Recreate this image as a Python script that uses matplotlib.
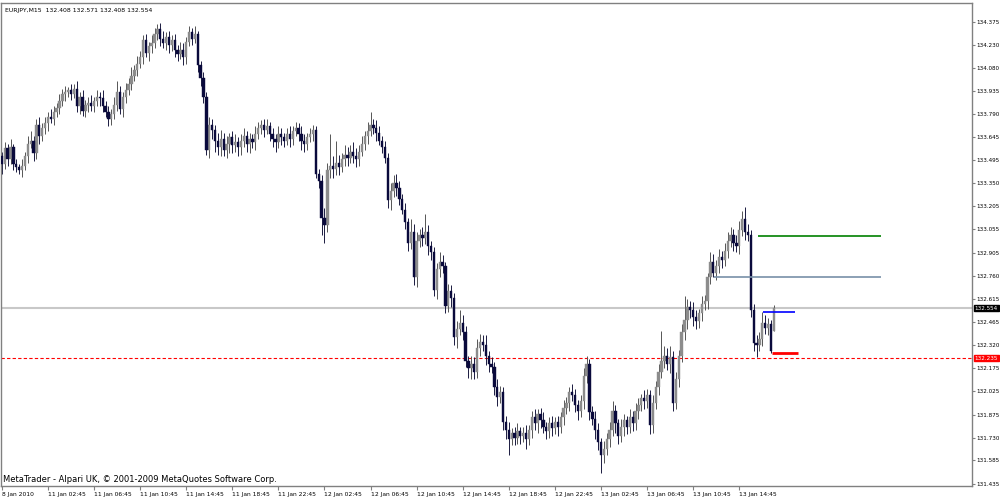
import matplotlib
matplotlib.use("Agg")
import matplotlib.pyplot as plt
import numpy as np

# ---------------- data ----------------
symbol_header = "EURJPY,M15  132.408 132.571 132.408 132.554"
footer_text = "MetaTrader - Alpari UK, \u00a9 2001-2009 MetaQuotes Software Corp."

first_open = 133.52
closes = [
    133.47,133.57,133.50,133.58,133.47,133.45,133.43,133.46,133.52,133.60,
    133.62,133.54,133.72,133.65,133.70,133.73,133.77,133.76,133.80,133.83,
    133.87,133.92,133.93,133.94,133.92,133.95,133.84,133.90,133.81,133.85,
    133.86,133.84,133.87,133.90,133.89,133.84,133.80,133.76,133.79,133.85,
    133.93,133.82,133.90,133.94,133.98,134.03,134.07,134.11,134.15,134.26,
    134.18,134.22,134.24,134.30,134.33,134.27,134.24,134.28,134.23,134.26,
    134.20,134.17,134.20,134.15,134.25,134.31,134.27,134.30,134.10,134.02,
    133.90,133.56,133.72,133.69,133.62,133.58,133.63,133.56,133.60,133.64,
    133.59,133.61,133.58,133.62,133.65,133.60,133.63,133.61,133.66,133.70,
    133.72,133.69,133.71,133.66,133.63,133.61,133.66,133.64,133.62,133.66,
    133.63,133.68,133.70,133.66,133.62,133.60,133.64,133.66,133.69,133.41,
    133.36,133.13,133.08,133.43,133.46,133.44,133.48,133.45,133.50,133.53,
    133.51,133.55,133.52,133.50,133.55,133.60,133.65,133.68,133.72,133.70,
    133.67,133.62,133.58,133.51,133.24,133.30,133.35,133.32,133.25,133.18,
    133.10,132.97,133.04,132.75,132.98,133.02,133.00,133.04,132.95,132.91,
    132.67,132.80,132.85,132.82,132.57,132.66,132.62,132.37,132.42,132.46,
    132.40,132.22,132.17,132.20,132.15,132.30,132.34,132.32,132.25,132.20,
    132.18,132.05,131.99,132.02,131.83,131.78,131.72,131.76,131.73,131.77,
    131.74,131.76,131.72,131.78,131.86,131.82,131.88,131.84,131.80,131.77,
    131.82,131.79,131.83,131.80,131.86,131.92,131.95,132.02,132.00,131.94,
    131.90,131.96,132.12,132.20,131.89,131.85,131.78,131.70,131.62,131.66,
    131.72,131.78,131.90,131.82,131.74,131.80,131.84,131.80,131.86,131.82,
    131.90,131.94,131.98,131.96,132.00,131.81,131.95,132.05,132.15,132.22,
    132.25,132.20,132.24,131.95,132.10,132.25,132.40,132.48,132.56,132.54,
    132.50,132.47,132.52,132.58,132.60,132.75,132.85,132.78,132.82,132.88,
    132.86,132.92,132.98,133.02,132.97,132.95,133.05,133.12,133.04,133.02,
    132.54,132.33,132.32,132.36,132.46,132.43,132.45,132.28,132.554,
]
open_gaps = {268: 132.408}

upper_wicks = [
    0.03,0.04,0.03,0.05,0.02,0.03,0.02,0.04,0.03,0.05,
    0.06,0.03,0.04,0.05,0.03,0.04,0.03,0.05,0.04,0.03,
    0.05,0.03,0.04,0.02,0.04,0.03,0.05,0.03,0.04,0.03,
    0.04,0.05,0.03,0.04,0.03,0.05,0.03,0.04,0.03,0.05,
    0.07,0.04,0.03,0.05,0.04,0.06,0.03,0.05,0.04,0.03,
    0.04,0.03,0.05,0.04,0.03,0.04,0.05,0.03,0.04,0.03,
    0.04,0.03,0.05,0.04,0.03,0.04,0.03,0.05,0.02,0.03,
    0.04,0.03,0.05,0.04,0.03,0.05,0.06,0.04,0.05,0.03,
    0.04,0.05,0.03,0.04,0.05,0.03,0.04,0.03,0.05,0.04,
    0.03,0.04,0.05,0.03,0.04,0.03,0.05,0.04,0.03,0.04,
    0.05,0.03,0.04,0.03,0.05,0.04,0.03,0.04,0.03,0.02,
    0.03,0.04,0.06,0.05,0.20,0.06,0.14,0.05,0.04,0.06,
    0.05,0.04,0.06,0.05,0.04,0.05,0.03,0.06,0.08,0.04,
    0.05,0.04,0.03,0.04,0.03,0.05,0.05,0.06,0.04,0.03,
    0.04,0.03,0.08,0.05,0.06,0.04,0.05,0.11,0.04,0.03,
    0.03,0.04,0.06,0.04,0.03,0.05,0.04,0.03,0.05,0.08,
    0.05,0.04,0.03,0.05,0.04,0.06,0.05,0.04,0.06,0.03,
    0.04,0.03,0.05,0.04,0.03,0.04,0.05,0.03,0.04,0.05,
    0.03,0.04,0.05,0.03,0.04,0.05,0.03,0.04,0.05,0.03,
    0.04,0.05,0.03,0.04,0.03,0.05,0.04,0.03,0.05,0.04,
    0.03,0.04,0.05,0.05,0.03,0.04,0.05,0.04,0.03,0.05,
    0.04,0.05,0.06,0.04,0.03,0.05,0.04,0.03,0.05,0.04,
    0.05,0.04,0.03,0.05,0.04,0.03,0.05,0.04,0.05,0.19,
    0.06,0.05,0.07,0.04,0.05,0.04,0.05,0.15,0.05,0.04,
    0.05,0.04,0.03,0.05,0.04,0.03,0.06,0.05,0.04,0.05,
    0.04,0.05,0.06,0.05,0.04,0.05,0.06,0.05,0.08,0.05,
    0.03,0.04,0.05,0.04,0.07,0.05,0.04,0.03,0.017,
]
lower_wicks = [
    0.06,0.03,0.04,0.03,0.04,0.03,0.02,0.04,0.03,0.04,
    0.03,0.05,0.04,0.05,0.03,0.04,0.05,0.03,0.04,0.03,
    0.04,0.03,0.05,0.03,0.04,0.03,0.04,0.05,0.03,0.04,
    0.05,0.03,0.04,0.03,0.05,0.04,0.03,0.05,0.04,0.03,
    0.04,0.03,0.05,0.04,0.03,0.04,0.03,0.04,0.03,0.04,
    0.03,0.05,0.04,0.03,0.04,0.05,0.03,0.04,0.05,0.04,
    0.05,0.04,0.03,0.05,0.04,0.03,0.04,0.03,0.04,0.05,
    0.04,0.03,0.05,0.06,0.07,0.05,0.06,0.04,0.05,0.06,
    0.05,0.04,0.06,0.05,0.04,0.05,0.06,0.04,0.05,0.03,
    0.04,0.05,0.03,0.04,0.05,0.06,0.04,0.05,0.04,0.03,
    0.05,0.04,0.03,0.04,0.06,0.05,0.04,0.03,0.04,0.03,
    0.04,0.11,0.11,0.04,0.05,0.06,0.04,0.05,0.03,0.04,
    0.05,0.03,0.04,0.05,0.04,0.03,0.04,0.05,0.03,0.04,
    0.05,0.03,0.04,0.03,0.05,0.06,0.04,0.05,0.04,0.03,
    0.04,0.05,0.04,0.05,0.06,0.04,0.05,0.04,0.06,0.05,
    0.04,0.06,0.05,0.04,0.05,0.04,0.06,0.05,0.07,0.04,
    0.05,0.04,0.06,0.07,0.05,0.04,0.05,0.04,0.06,0.05,
    0.04,0.05,0.06,0.04,0.05,0.06,0.10,0.04,0.05,0.04,
    0.05,0.04,0.06,0.04,0.05,0.04,0.06,0.05,0.04,0.05,
    0.04,0.05,0.04,0.06,0.04,0.05,0.04,0.05,0.04,0.05,
    0.06,0.04,0.05,0.04,0.05,0.04,0.06,0.05,0.115,0.05,
    0.04,0.05,0.04,0.06,0.05,0.04,0.06,0.05,0.04,0.05,
    0.04,0.05,0.04,0.05,0.04,0.06,0.05,0.04,0.05,0.04,
    0.05,0.04,0.06,0.05,0.04,0.05,0.04,0.05,0.06,0.05,
    0.06,0.05,0.04,0.05,0.04,0.05,0.04,0.03,0.05,0.04,
    0.05,0.04,0.05,0.04,0.05,0.04,0.05,0.04,0.05,0.04,
    0.04,0.05,0.08,0.04,0.05,0.04,0.05,0.01,0.0,
]

x_tick_labels = ["8 Jan 2010",
                 "11 Jan 02:45", "11 Jan 06:45", "11 Jan 10:45", "11 Jan 14:45", "11 Jan 18:45", "11 Jan 22:45",
                 "12 Jan 02:45", "12 Jan 06:45", "12 Jan 10:45", "12 Jan 14:45", "12 Jan 18:45", "12 Jan 22:45",
                 "13 Jan 02:45", "13 Jan 06:45", "13 Jan 10:45", "13 Jan 14:45"]
bars_per_label = 16

y_tick_values = [134.375, 134.230, 134.080, 133.935, 133.790, 133.645, 133.495, 133.350,
                 133.205, 133.055, 132.905, 132.760, 132.615, 132.465, 132.320, 132.175,
                 132.025, 131.875, 131.730, 131.585, 131.435]

bid_price = 132.554
alert_price = 132.235
green_level = 133.013
slate_level = 132.752
blue_level = 132.530
red_level = 132.270
green_span = (262.6, 305.3)
slate_span = (247.4, 305.3)
blue_span = (264.4, 275.2)
red_span = (267.3, 276.3)

# ---------------- build ----------------
n = len(closes)
opens = [first_open] + closes[:-1]
for k, v in open_gaps.items():
    opens[k] = v
opens = np.array(opens)
closes_a = np.array(closes)
highs = np.maximum(opens, closes_a) + np.array(upper_wicks)
lows = np.minimum(opens, closes_a) - np.array(lower_wicks)
idx = np.arange(n)

fig = plt.figure(figsize=(10, 4.97), dpi=100)
ax = fig.add_axes([1/1000, 11/497, 971/1000, 483/497])
ax.set_xlim(-0.3, 336.8)
ax.set_ylim(131.422, 134.496)

up = closes_a >= opens
bull_col = "#8c8c8c"
bull_wick = "#555555"
bear_col = "#0a0a3c"
bear_wick = "#1a1a40"

# horizontal reference lines (behind candles)
ax.axhline(bid_price, color="#c8c8c8", lw=1.5, zorder=1)
ax.axhline(alert_price, color="#ff0000", lw=0.8, ls=(0, (3, 2)), zorder=1)

ax.vlines(idx[up], lows[up], highs[up], color=bull_wick, lw=0.7, zorder=2)
ax.vlines(idx[~up], lows[~up], highs[~up], color=bear_wick, lw=0.7, zorder=2)
ax.bar(idx[up], closes_a[up] - opens[up], bottom=opens[up], width=0.8,
       color=bull_col, edgecolor=bull_col, lw=0.3, zorder=3)
ax.bar(idx[~up], closes_a[~up] - opens[~up], bottom=opens[~up], width=0.8,
       color=bear_col, edgecolor=bear_col, lw=0.3, zorder=3)

ax.hlines(green_level, *green_span, color="#008000", lw=1.2, zorder=4)
ax.hlines(slate_level, *slate_span, color="#7890a8", lw=1.2, zorder=4)
ax.hlines(blue_level, *blue_span, color="#0000ff", lw=1.2, zorder=4)
ax.hlines(red_level, *red_span, color="#ff0000", lw=2.0, zorder=4)

for s in ax.spines.values():
    s.set_color("#808080")
    s.set_linewidth(1)

ax.yaxis.tick_right()
ax.set_yticks(y_tick_values)
ax.set_yticklabels([f"{v:.3f}" for v in y_tick_values])
ax.tick_params(axis="y", direction="out", length=2, width=0.8, color="#808080",
               labelsize=4.1, pad=1.0, labelcolor="black")

ax.set_xticks([k * bars_per_label for k in range(len(x_tick_labels))])
ax.set_xticklabels(x_tick_labels)
ax.tick_params(axis="x", direction="out", length=3, width=0.8, color="#808080",
               labelsize=4.3, pad=1.5, labelcolor="black")
for t in ax.get_xticklabels():
    t.set_horizontalalignment("left")

# price labels on the axis
ax.text(1.0028, bid_price, f"{bid_price:.3f}", transform=ax.get_yaxis_transform(),
        color="white", fontsize=4.1, va="center", ha="left",
        bbox=dict(boxstyle="square,pad=0.12", fc="black", ec="black"), zorder=10, clip_on=False)
ax.text(1.0028, alert_price, f"{alert_price:.3f}", transform=ax.get_yaxis_transform(),
        color="white", fontsize=4.1, va="center", ha="left",
        bbox=dict(boxstyle="square,pad=0.12", fc="#ff0000", ec="#ff0000"), zorder=10, clip_on=False)

ax.text(0.004, 0.99, symbol_header, transform=ax.transAxes, fontsize=4.4,
        va="top", ha="left", color="black")
ax.text(0.002, 0.004, footer_text, transform=ax.transAxes, fontsize=6.05,
        va="bottom", ha="left", color="black")

fig.savefig("out.png", dpi=100, facecolor="white")
